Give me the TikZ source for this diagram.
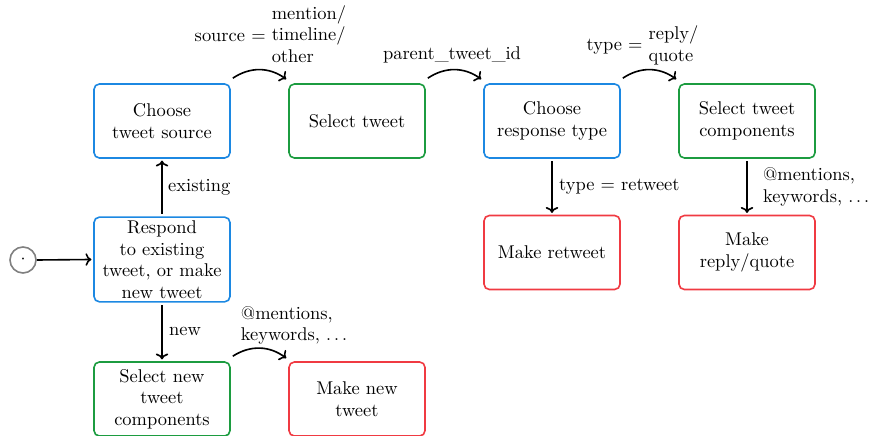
\documentclass[tikz,border=0pt]{standalone}
\usepackage{fontspec}
\usetikzlibrary{arrows.meta}
\definecolor{boxblue}{RGB}{28,136,226}
\definecolor{boxgreen}{RGB}{28,156,64}
\definecolor{boxred}{RGB}{240,58,66}
\definecolor{startgray}{RGB}{128,128,128}
\tikzset{
  stepbox/.style={draw, line width=0.9pt, rounded corners=3pt,
    minimum width=75.9pt, minimum height=41.3pt, text width=70pt,
    align=center, inner sep=2pt},
  choice/.style={stepbox, draw=boxblue},
  pick/.style={stepbox, draw=boxgreen},
  make/.style={stepbox, draw=boxred},
  flow/.style={-{Computer Modern Rightarrow[length=3.3pt,width=7pt]}, line width=0.9pt},
  vflow/.style={flow, shorten <=1.5pt, shorten >=1pt},
  arc/.style={flow, bend left=35},
  lbl/.style={inner sep=0pt},
}
\begin{document}
\begin{tikzpicture}[x=0.5581pt,y=-0.5581pt,font=\fontsize{10.3}{12}\selectfont]
  \useasboundingbox (0,0) rectangle (871,436);

  % start marker
  \node[draw=startgray, line width=0.9pt, circle, minimum size=14.5pt, inner sep=0pt] (start) at (23,260) {$\cdot$};

  % process steps
  \node[choice] (respond) at (162,259.5) {Respond\\to existing\\tweet, or make\\new tweet};
  \node[choice] (source)  at (162,121) {Choose\\tweet source};
  \node[pick]   (select)  at (357,121) {Select tweet};
  \node[choice] (rtype)   at (552,121) {Choose\\response type};
  \node[pick]   (comp)    at (747,121) {Select tweet\\components};
  \node[make]   (retweet) at (552,252.5) {Make retweet};
  \node[make]   (reply)   at (747,252.5) {Make\\reply/quote};
  \node[pick]   (newcomp) at (162,399) {Select new\\tweet\\components};
  \node[make]   (newtw)   at (357,399) {Make new\\tweet};

  % connectors
  \draw[flow] (start.east) -- ([xshift=-1pt]respond.west);
  \draw[vflow] (respond.north) -- node[right=3pt, lbl] {existing} (source.south);
  \draw[vflow] (respond.south) -- node[right=3.5pt, lbl] {new} (newcomp.north);
  \draw[vflow] (rtype.south) -- node[right=3.5pt, lbl] {type = retweet} (retweet.north);
  \draw[vflow] (comp.south) -- node[right=8.5pt, lbl, align=left] {@mentions,\\keywords, $\ldots$} (reply.north);

  \draw[arc] ([shift={(2,-5)}]source.north east) to
    node[anchor=south, lbl, xshift=6pt] {source = \begin{tabular}[c]{@{}l@{}}mention/\\timeline/\\other\end{tabular}}
    ([shift={(-2,-4)}]select.north west);
  \draw[arc] ([shift={(2,-5)}]select.north east) to
    node[anchor=south, lbl, yshift=3.5pt, xshift=-1.5pt] {parent\_tweet\_id}
    ([shift={(-2,-4)}]rtype.north west);
  \draw[arc] ([shift={(2,-5)}]rtype.north east) to
    node[anchor=south, lbl, yshift=0.8pt, xshift=-4pt] {type = \begin{tabular}[c]{@{}l@{}}reply/\\quote\end{tabular}}
    ([shift={(-2,-4)}]comp.north west);
  \draw[arc] ([shift={(2,-5)}]newcomp.north east) to
    node[anchor=south west, lbl, yshift=1.5pt, xshift=-11pt, align=left] {@mentions,\\keywords, $\ldots$}
    ([shift={(-2,-3)}]newtw.north west);
\end{tikzpicture}
\end{document}
